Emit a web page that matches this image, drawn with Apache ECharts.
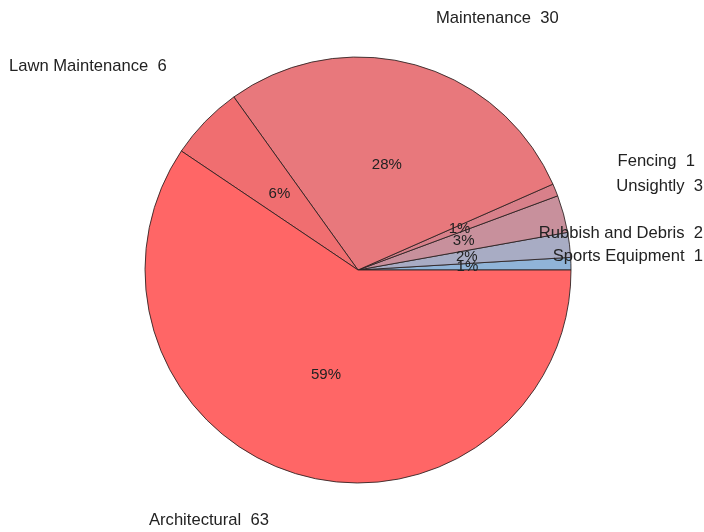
<!DOCTYPE html>
<html>
<head>
<meta charset="utf-8">
<script src="https://cdn.jsdelivr.net/npm/echarts@6/dist/echarts.min.js"></script>
<style>html,body{margin:0;padding:0;background:#fff}#c{width:704px;height:532px}</style>
</head>
<body>
<div id="c"></div>
<script>
const categories = ['Sports Equipment', 'Rubbish and Debris', 'Unsightly', 'Fencing', 'Maintenance', 'Lawn Maintenance', 'Architectural'];
const values = [1, 2, 3, 1, 30, 6, 63];
const colors = ['#90b4d8', '#a8acc4', '#c8909c', '#d8808a', '#e8787c', '#f06e70', '#ff6666'];

// label anchor placement (text layout only)
const labelSpots = [
  {x: 703, y: 256, align: 'right'},
  {x: 703, y: 233, align: 'right'},
  {x: 703, y: 186, align: 'right'},
  {x: 695, y: 161, align: 'right'},
  {x: 436, y: 18, align: 'left'},
  {x: 9, y: 66, align: 'left'},
  {x: 149, y: 520, align: 'left'}
];

const data = categories.map((n, i) => ({name: n, value: values[i], itemStyle: {color: colors[i]}}));
const fam = 'Liberation Sans, Arial, sans-serif';

const chart = echarts.init(document.getElementById('c'));
chart.setOption({
  animation: false,
  series: [
    {
      type: 'pie',
      center: [358, 270],
      radius: [0, 213],
      startAngle: 0,
      clockwise: false,
      percentPrecision: 0,
      data: data,
      itemStyle: {borderColor: 'rgba(40,30,30,0.85)', borderWidth: 1},
      label: {show: true, position: 'inside', formatter: '{d}%', fontFamily: fam, fontSize: 15, color: '#222', overflow: 'none'},
      labelLine: {show: false},
      labelLayout: {hideOverlap: false, moveOverlap: null},
      emphasis: {disabled: true}
    },
    {
      type: 'pie',
      center: [358, 270],
      radius: [0, 213],
      startAngle: 0,
      clockwise: false,
      silent: true,
      data: data.map(d => ({name: d.name, value: d.value, itemStyle: {color: 'rgba(0,0,0,0)'}})),
      itemStyle: {borderWidth: 0},
      label: {show: true, position: 'outside', formatter: '{b}  {c}', fontFamily: fam, fontSize: 16.6, color: '#222', overflow: 'none', width: 300},
      labelLine: {show: false},
      labelLayout: function (p) {
        const s = labelSpots[p.dataIndex];
        return {x: s.x, y: s.y, align: s.align, verticalAlign: 'middle', moveOverlap: null, hideOverlap: false};
      },
      emphasis: {disabled: true}
    }
  ]
});
</script>
</body>
</html>
